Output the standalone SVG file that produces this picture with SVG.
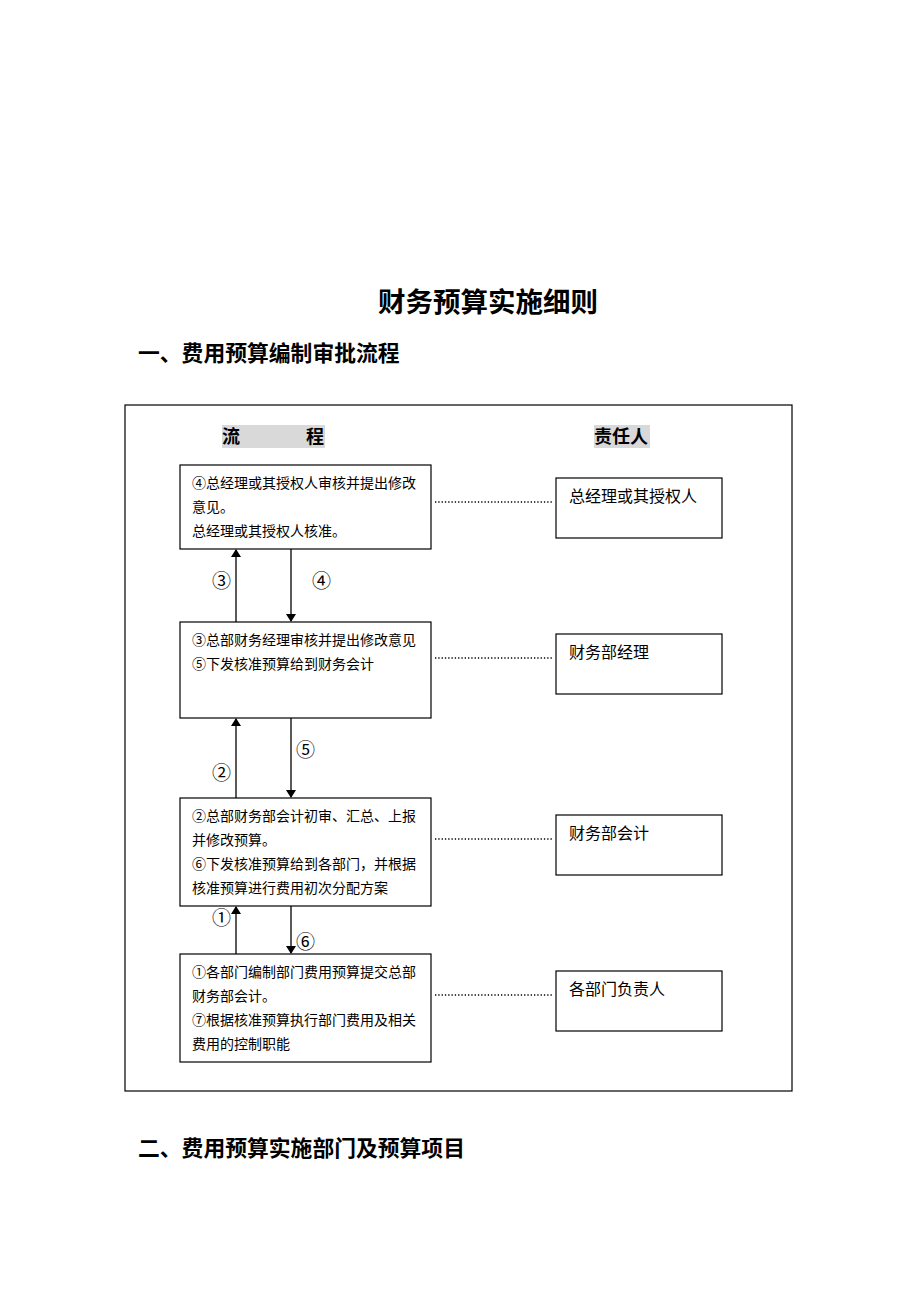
<svg xmlns="http://www.w3.org/2000/svg" width="920" height="1302" viewBox="0 0 920 1302">
<style>
text{font-family:"Liberation Serif","Noto Sans CJK SC",serif;fill:#000}
.h{font-weight:bold}
.bx{fill:#fff;stroke:#000;stroke-width:1.2}
.t{font-size:14px}
.r{font-size:16px}
.ln{stroke:#000;stroke-width:1.3;fill:none}
.dot{stroke:#000;stroke-width:1.3;stroke-dasharray:1.3 2;fill:none}
.c{font-size:19px}
</style>
<defs>
<marker id="ah" markerWidth="8" markerHeight="10" refX="7" refY="5" orient="auto" markerUnits="userSpaceOnUse">
<path d="M0,0 L8,5 L0,10 Z" fill="#000"/>
</marker>
</defs>
<rect width="920" height="1302" fill="#fff"/>
<text x="488" y="312" class="h" font-size="27.5" text-anchor="middle">财务预算实施细则</text>
<text x="138" y="361" class="h" font-size="21.8">一、费用预算编制审批流程</text>
<rect x="125" y="405" width="667" height="686" fill="none" stroke="#000" stroke-width="1.2"/>
<g id="hdr">
<rect x="222" y="425" width="103" height="23" fill="#d9d9d9"/>
<text x="222" y="443" class="h" font-size="18">流</text>
<text x="306" y="443" class="h" font-size="18">程</text>
<rect x="594" y="425" width="56" height="23" fill="#d9d9d9"/>
<text x="594" y="443" class="h" font-size="18">责任人</text>
</g>
<g id="n1">
<rect class="bx" x="180" y="465" width="251" height="84"/>
<text class="t" x="192" y="488">④总经理或其授权人审核并提出修改</text>
<text class="t" x="192" y="512">意见。</text>
<text class="t" x="192" y="536">总经理或其授权人核准。</text>
</g>
<g id="n2">
<rect class="bx" x="180" y="622" width="251" height="96"/>
<text class="t" x="192" y="645">③总部财务经理审核并提出修改意见</text>
<text class="t" x="192" y="669">⑤下发核准预算给到财务会计</text>
</g>
<g id="n3">
<rect class="bx" x="180" y="798" width="251" height="108"/>
<text class="t" x="192" y="821">②总部财务部会计初审、汇总、上报</text>
<text class="t" x="192" y="845">并修改预算。</text>
<text class="t" x="192" y="869">⑥下发核准预算给到各部门，并根据</text>
<text class="t" x="192" y="893">核准预算进行费用初次分配方案</text>
</g>
<g id="n4">
<rect class="bx" x="180" y="954" width="251" height="108"/>
<text class="t" x="192" y="977">①各部门编制部门费用预算提交总部</text>
<text class="t" x="192" y="1001">财务部会计。</text>
<text class="t" x="192" y="1025">⑦根据核准预算执行部门费用及相关</text>
<text class="t" x="192" y="1049">费用的控制职能</text>
</g>
<g id="r1"><rect class="bx" x="556" y="478" width="166" height="60"/><text class="r" x="569" y="502">总经理或其授权人</text></g>
<g id="r2"><rect class="bx" x="556" y="634" width="166" height="60"/><text class="r" x="569" y="658">财务部经理</text></g>
<g id="r3"><rect class="bx" x="556" y="815" width="166" height="60"/><text class="r" x="569" y="839">财务部会计</text></g>
<g id="r4"><rect class="bx" x="556" y="971" width="166" height="60"/><text class="r" x="569" y="995">各部门负责人</text></g>
<g id="connectors">
<line class="dot" x1="435" y1="502" x2="552" y2="502"/>
<line class="dot" x1="435" y1="658" x2="552" y2="658"/>
<line class="dot" x1="435" y1="839" x2="552" y2="839"/>
<line class="dot" x1="435" y1="995" x2="552" y2="995"/>
<line class="ln" x1="236" y1="622" x2="236" y2="550" marker-end="url(#ah)"/>
<line class="ln" x1="291" y1="549" x2="291" y2="621" marker-end="url(#ah)"/>
<line class="ln" x1="236" y1="798" x2="236" y2="719" marker-end="url(#ah)"/>
<line class="ln" x1="291" y1="718" x2="291" y2="797" marker-end="url(#ah)"/>
<line class="ln" x1="236" y1="954" x2="236" y2="907" marker-end="url(#ah)"/>
<line class="ln" x1="291" y1="906" x2="291" y2="953" marker-end="url(#ah)"/>
<text class="c" x="212" y="588">③</text>
<text class="c" x="312" y="588">④</text>
<text class="c" x="212" y="780">②</text>
<text class="c" x="296" y="757">⑤</text>
<text class="c" x="212" y="925">①</text>
<text class="c" x="296" y="949">⑥</text>
</g>
<text x="138" y="1156" class="h" font-size="21.8">二、费用预算实施部门及预算项目</text>
</svg>
